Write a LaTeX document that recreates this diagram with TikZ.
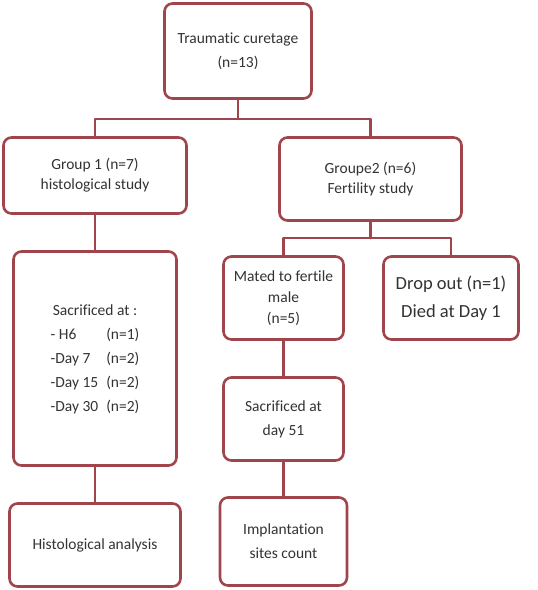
\documentclass[tikz,border=0pt]{standalone}
\usepackage{fontspec}
\setmainfont{Carlito}[Ligatures=NoCommon]
\usepackage{tikz}
\definecolor{boxred}{HTML}{A0454B}
\definecolor{txtgray}{HTML}{333333}
\tikzset{
  every picture/.style={line join=round, line cap=round},
  flowbox/.style={draw=boxred, line width=2.6pt, rounded corners=8pt, fill=white, align=center, text=txtgray, inner sep=0pt},
  link/.style={draw=boxred, line width=2.6pt},
  txt/.style={font=\fontsize{15.5}{#1}\selectfont},
  txt/.default=24,
}

\begin{document}
\begin{tikzpicture}[x=1pt,y=-1pt]
\useasboundingbox (0,0) rectangle (538,590);
% top
\node[flowbox,txt,minimum width=147pt,minimum height=95pt] (trauma) at (238,51) {Traumatic curetage\\(n=13)};
% groups
\node[flowbox,txt=20,minimum width=183pt,minimum height=76pt] (grpone) at (95,175.5) {Group 1 (n=7)\\histological study};
\node[flowbox,txt=20,minimum width=182pt,minimum height=83pt] (grptwo) at (370.5,179) {Groupe2 (n=6)\\Fertility study};
% left branch
\node[flowbox,txt,minimum width=163pt,minimum height=214pt] (sacone) at (95,358.5) {%
  \begin{tabular}{@{}l@{\hspace{8pt}}l@{}}
  \multicolumn{2}{@{}c@{}}{Sacrificed at :}\\
  - H6 & (n=1)\\
  -Day 7 & (n=2)\\
  -Day 15 & (n=2)\\
  -Day 30 & (n=2)
  \end{tabular}};
\node[flowbox,txt,minimum width=171pt,minimum height=83pt] (histo) at (95,545) {Histological analysis};
% right branch
\node[flowbox,txt=21,minimum width=120pt,minimum height=83pt] (mated) at (283.5,298) {Mated to fertile\\male\\(n=5)};
\node[flowbox,font=\fontsize{18.5}{28}\selectfont,minimum width=135pt,minimum height=83pt] (dropout) at (451,298) {Drop out (n=1)\\Died at Day 1};
\node[flowbox,txt,minimum width=120pt,minimum height=83pt] (sactwo) at (283.5,419) {Sacrificed at\\day 51};
\node[flowbox,txt,minimum width=127pt,minimum height=88pt] (implant) at (283.5,541.5) {Implantation\\sites count};
% connectors
\coordinate (splitone) at (238,119);
\coordinate (splittwo) at (370.5,238);
\draw[link] (trauma.south) -- (splitone);
\draw[link] (grpone.north) |- (splitone) -| (grptwo.north);
\draw[link] (grptwo.south) -- (splittwo);
\draw[link] (mated.north) |- (splittwo) -| (dropout.north);
\draw[link] (grpone.south) -- (sacone.north);
\draw[link] (sacone.south) -- (histo.north);
\draw[link] (mated.south) -- (sactwo.north);
\draw[link] (sactwo.south) -- (implant.north);
\end{tikzpicture}
\end{document}
